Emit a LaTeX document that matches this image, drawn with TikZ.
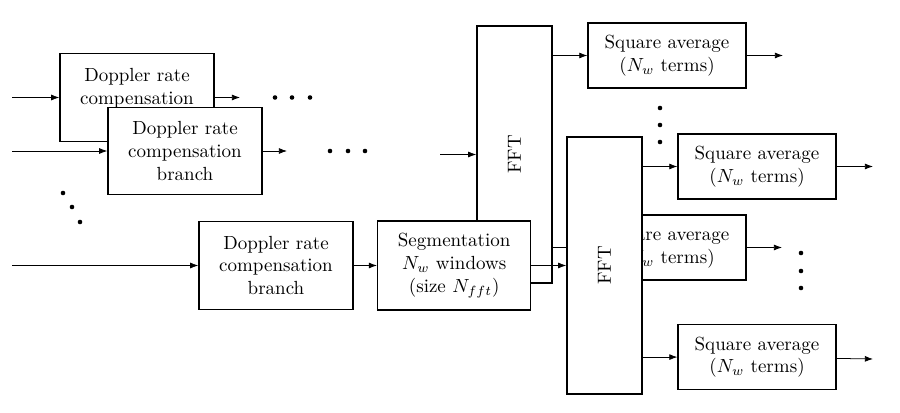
\documentclass[tikz,border=0pt]{standalone}
\usepackage{amsmath}
\usepackage{tikz}
\usetikzlibrary{arrows.meta,positioning}
\tikzset{
  block/.style={draw, line width=0.7pt, fill=white, align=center, inner sep=2pt},
  dopbox/.style={block, minimum width=2.85cm, minimum height=1.62cm},
  fftbox/.style={block, minimum width=1.39cm, minimum height=4.75cm,
                 label={[rotate=90]center:FFT}},
  sqbox/.style={block, minimum width=2.92cm, minimum height=1.2cm},
  arr/.style={-{Latex[length=1.5mm, width=1.1mm]}, line width=0.4pt},
  dotmark/.style={circle, fill, inner sep=0pt, minimum size=2.4pt}
}

\begin{document}
\begin{tikzpicture}[x=0.0185cm, y=-0.0185cm]
    \useasboundingbox (0,0) rectangle (900,413);
    % Doppler branches
    \node[dopbox] (D1) at (137,97.5) {Doppler rate\\compensation\\~};
    \coordinate (in1) at (12,97.5);
    \coordinate (out1) at (240,97.5);
    \draw[arr] (in1) -- (D1);
    \draw[arr] (D1) -- (out1);
    \foreach \i/\x in {1/275,2/292,3/310}
      \node[dotmark] (h1\i) at (\x,97.5) {};

    \node[dopbox] (D2) at (185,151) {Doppler rate\\compensation\\branch};
    \coordinate (in2) at (12,151);
    \coordinate (out2) at (287,151);
    \draw[arr] (in2) -- (D2);
    \draw[arr] (D2) -- (out2);
    \foreach \i/\x in {1/330,2/348,3/365}
      \node[dotmark] (h2\i) at (\x,151) {};

    \foreach \i/\x/\y in {1/63/193,2/72/207,3/80/222}
      \node[dotmark] (v1\i) at (\x,\y) {};

    \node[dopbox] (D3) at (276,265.5) {Doppler rate\\compensation\\branch};
    \coordinate (in3) at (12,265.5);
    \draw[arr] (in3) -- (D3);

    % back FFT stage
    \node[fftbox] (F1) at (514.5,154.5) {};
    \coordinate (fin) at (440,154.5);
    \draw[arr] (fin) -- (F1);
    \node[sqbox] (S1) at (667,55.5) {Square average\\($N_w$ terms)};
    \node[sqbox] (S3) at (667,247.5) {Square average\\($N_w$ terms)};
    \draw[arr] (F1.east |- S1.west) -- (S1.west);
    \draw[arr] (F1.east |- S3.west) -- (S3.west);
    \coordinate (o1) at (783,55.5);
    \coordinate (o3) at (782,247.5);
    \draw[arr] (S1) -- (o1);
    \draw[arr] (S3) -- (o3);
    \foreach \i/\y in {1/108,2/125,3/142}
      \node[dotmark] (v2\i) at (660,\y) {};
    \foreach \i/\y in {1/253,2/271,3/288}
      \node[dotmark] (v3\i) at (801,\y) {};

    % segmentation and front FFT stage
    \node[block, minimum width=2.83cm, minimum height=1.65cm, right=0.43cm of D3] (seg)
      {Segmentation\\$N_w$ windows\\(size $N_{fft}$)};
    \draw[arr] (D3) -- (seg);
    \node[fftbox] (F2) at (604.5,265.5) {};
    \draw[arr] (seg) -- (F2.west |- seg.east);
    \node[sqbox] (S2) at (757,166.5) {Square average\\($N_w$ terms)};
    \node[sqbox, below=2.3cm of S2] (S4) {Square average\\($N_w$ terms)};
    \draw[arr] (F2.east |- S2.west) -- (S2.west);
    \draw[arr] (F2.east |- S4.west) -- (S4.west);
    \coordinate (o2) at (873,166.5);
    \coordinate (o4) at (873,359);
    \draw[arr] (S2) -- (o2);
    \draw[arr] (S4) -- (o4);
\end{tikzpicture}
\end{document}
